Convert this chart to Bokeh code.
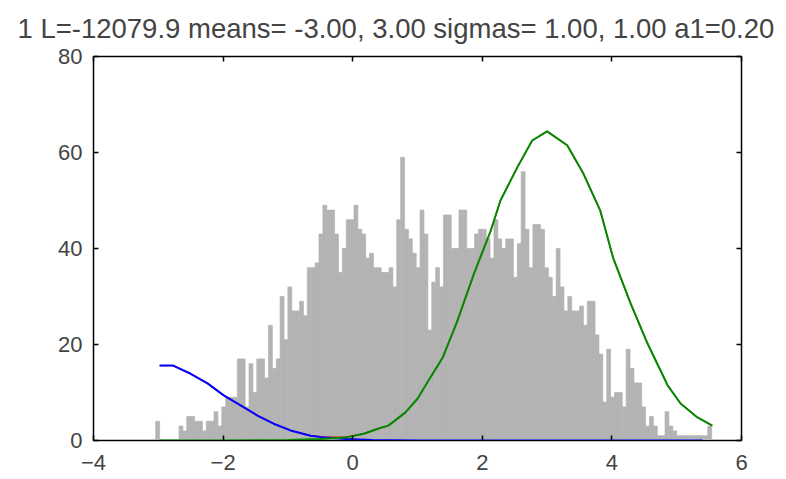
from bokeh.plotting import figure
from bokeh.models import LinearAxis, FixedTicker, ColumnDataSource, CustomJSTickFormatter
from bokeh.embed import file_html
from bokeh.resources import INLINE

title_text = "1  L=-12079.9 means= -3.00, 3.00 sigmas= 1.00, 1.00 a1=0.20"

# histogram (bin start, bin width, counts)
hist_start = -3.04
bin_width = 0.06
counts = [4, 0, 0, 0, 0, 0, 3, 2, 5, 5,
          4, 4, 2, 4, 4, 6, 3, 7, 9, 9,
          9, 17, 17, 7, 16, 10, 17, 17, 13, 24,
          15, 17, 30, 21, 32, 27, 27, 29, 26, 36,
          36, 37, 43, 49, 48, 48, 43, 35, 40, 46,
          46, 49, 44, 43, 38, 39, 36, 36, 35, 35,
          36, 32, 46, 59, 44, 42, 39, 36, 48, 43,
          23, 33, 36, 32, 47, 47, 40, 40, 48, 48,
          40, 40, 43, 44, 44, 42, 38, 46, 42, 40,
          42, 42, 34, 41, 56, 44, 36, 45, 45, 44,
          36, 34, 30, 40, 32, 27, 30, 27, 27, 28,
          24, 29, 29, 22, 18, 8, 19, 9, 10, 10,
          7, 19, 15, 12, 12, 7, 3, 5, 3, 1,
          1, 6, 3, 2, 1, 1, 1, 1, 1, 1,
          1, 1, 3]

# component curves
blue_x = [-2.98, -2.77, -2.5, -2.24, -1.99, -1.73, -1.47, -1.22, -0.96, -0.65, -0.42, -0.1, 0.3, 1.0, 3.0, 5.4]
blue_y = [15.6, 15.6, 13.9, 11.9, 9.4, 7.3, 5.2, 3.5, 2.1, 1.0, 0.6, 0.3, 0.1, 0.0, 0.0, 0.0]

green_x = [-2.98, -2.0, -1.0, -0.5, -0.11, 0.17, 0.40, 0.55, 0.81, 1.0, 1.17, 1.39, 1.61, 1.87,
           2.13, 2.28, 2.54, 2.77, 3.0, 3.31, 3.56, 3.82, 4.02, 4.29, 4.55, 4.86, 5.06, 5.32, 5.55]
green_y = [0.0, 0.0, 0.1, 0.3, 0.6, 1.4, 2.5, 3.1, 5.8, 8.7, 12.5, 17.3, 24.7, 34.7,
           43.7, 50.0, 56.9, 62.5, 64.4, 61.5, 55.6, 47.9, 38.0, 28.5, 20.2, 11.5, 7.7, 4.8, 3.1]

# total (mostly hidden under the two components)
red_x = [-2.98, -2.77, -2.5, -2.24, -1.99, -1.73, -1.47, -1.22, -0.96, -0.65, -0.42, -0.11,
         0.17, 0.40, 0.55, 0.81, 1.0, 1.17, 1.39, 1.61, 1.87, 2.13, 2.28, 2.54, 2.77, 3.0,
         3.31, 3.56, 3.82, 4.02, 4.29, 4.55, 4.86, 5.06, 5.32, 5.55]
red_y = [15.6, 15.6, 13.9, 11.9, 9.4, 7.3, 5.2, 3.5, 2.1, 1.0, 0.7, 0.7,
         1.4, 2.5, 3.1, 5.8, 8.7, 12.5, 17.3, 24.7, 34.7, 43.7, 50.0, 56.9, 62.5, 64.4,
         61.5, 55.6, 47.9, 38.0, 28.5, 20.2, 11.5, 7.7, 4.8, 3.1]

x_ticks = [-4, -2, 0, 2, 4, 6]
y_ticks = [0, 20, 40, 60, 80]

FONT = "Liberation Sans"

p = figure(width=786, height=479, x_range=(-4, 6), y_range=(0, 80),
           output_backend="svg", toolbar_location=None,
           min_border_left=93, min_border_right=45, min_border_top=56, min_border_bottom=39,
           title=title_text)
p.title.text_font = FONT
p.title.text_font_size = "27.5px"
p.title.text_font_style = "normal"
p.title.align = "left"
p.title.offset = -76
p.title.vertical_align = "top"
p.title.standoff = 21
p.grid.visible = False
p.outline_line_color = "black"
p.outline_line_width = 1.5
p.background_fill_color = "white"
p.border_fill_color = "white"

lefts = [hist_start + i * bin_width for i in range(len(counts))]
rights = [l + bin_width for l in lefts]
src = ColumnDataSource(dict(left=lefts, right=rights, top=counts, bottom=[0] * len(counts)))
p.quad(left="left", right="right", top="top", bottom="bottom", source=src,
       fill_color="#b3b3b3", line_color="#b3b3b3", line_width=0.7)

p.line(red_x, red_y, line_color="#ff0000", line_width=1.4)
p.line(blue_x, blue_y, line_color="#0000ff", line_width=2)
p.line(green_x, green_y, line_color="#008c00", line_width=2)

def style(ax, labels=True, standoff=10):
    ax.axis_line_color = "black"
    ax.major_tick_in = 5
    ax.major_tick_out = 0
    ax.minor_tick_line_color = None
    ax.major_tick_line_color = "black"
    ax.major_tick_line_width = 1.5
    if labels:
        ax.major_label_text_font = FONT
        ax.major_label_text_font_size = "22px"
        ax.major_label_standoff = standoff
    else:
        ax.formatter = CustomJSTickFormatter(code="return ''")
        ax.major_label_text_font_size = "1px"
        ax.major_label_standoff = 0

p.xaxis.ticker = FixedTicker(ticks=x_ticks)
p.yaxis.ticker = FixedTicker(ticks=y_ticks)
style(p.xaxis[0], standoff=14)
style(p.yaxis[0], standoff=11)

ra = LinearAxis(ticker=FixedTicker(ticks=y_ticks))
style(ra, labels=False)
p.add_layout(ra, "right")
ta = LinearAxis(ticker=FixedTicker(ticks=x_ticks))
style(ta, labels=False)
p.add_layout(ta, "above")

open("out.html", "w").write(file_html(p, INLINE))
